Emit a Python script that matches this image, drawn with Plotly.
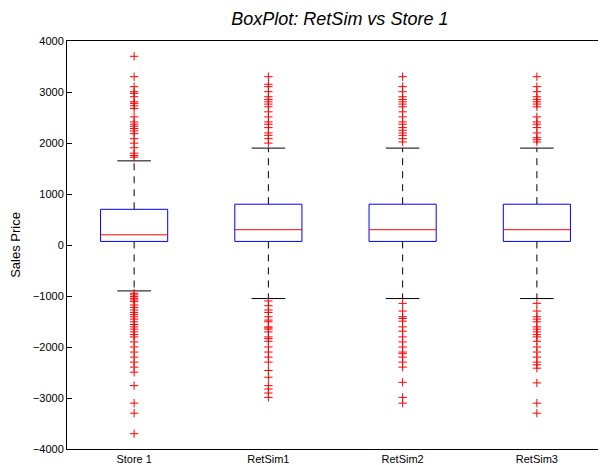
import plotly.graph_objects as go

categories = ["Store 1", "RetSim1", "RetSim2", "RetSim3"]
q1 = [70, 70, 70, 70]
median = [200, 300, 300, 300]
q3 = [700, 800, 800, 800]
upper_whisker = [1650, 1900, 1900, 1900]
lower_whisker = [-900, -1050, -1050, -1050]

outliers_store1 = [3700, 3300, 3105, 3006, 2974, 2907, 2808, 2777, 2730, 2678, 2512, 2413, 2368,
                   2328, 2283, 2236, 2183, 2085, 1998, 1907, 1800, 1755, 1721,
                   -947, -978, -1012, -1045, -1077, -1111, -1176, -1223, -1275, -1322, -1362,
                   -1407, -1453, -1506, -1559, -1605, -1650, -1704, -1757, -1802, -1901, -2000,
                   -2099, -2198, -2296, -2395, -2494, -2757, -3101, -3298, -3700]
outliers_retsim1 = [3300, 3152, 3105, 3006, 2907, 2855, 2808, 2763, 2710, 2611, 2512, 2413, 2368,
                    2302, 2197, 2150, 2085, 1998,
                    -1097, -1190, -1275, -1322, -1407, -1473, -1506, -1605, -1625, -1650, -1704,
                    -1802, -1836, -1888, -2000, -2099, -2198, -2296, -2460, -2593, -2757, -2824,
                    -2903, -2988]
outliers_retsim2 = [3300, 3105, 3006, 2907, 2855, 2808, 2763, 2710, 2611, 2512, 2413, 2368, 2302,
                    2250, 2197, 2150, 2085, 2020,
                    -1144, -1295, -1407, -1440, -1493, -1605, -1690, -1802, -1901, -2000, -2099,
                    -2132, -2198, -2296, -2395, -2692, -2988, -3101]
outliers_retsim3 = [3300, 3105, 3006, 2907, 2855, 2808, 2763, 2710, 2512, 2413, 2368, 2302, 2197,
                    2104, 2065, 2020,
                    -1144, -1295, -1407, -1453, -1506, -1605, -1650, -1704, -1757, -1802, -1888,
                    -2000, -2099, -2198, -2296, -2349, -2415, -2704, -3101, -3298]
outliers = [outliers_store1, outliers_retsim1, outliers_retsim2, outliers_retsim3]

y_ticks = [-4000, -3000, -2000, -1000, 0, 1000, 2000, 3000, 4000]

BOX_HALF = 0.25
CAP_HALF = 0.125

fig = go.Figure()
for i, name in enumerate(categories):
    x = i + 1
    # whiskers (dashed)
    fig.add_trace(go.Scatter(x=[x, x, None, x, x],
                             y=[q3[i], upper_whisker[i], None, q1[i], lower_whisker[i]],
                             mode="lines", line=dict(color="black", width=1, dash="7px,6px"),
                             hoverinfo="skip", showlegend=False))
    # caps
    fig.add_trace(go.Scatter(x=[x - CAP_HALF, x + CAP_HALF, None, x - CAP_HALF, x + CAP_HALF],
                             y=[upper_whisker[i], upper_whisker[i], None, lower_whisker[i], lower_whisker[i]],
                             mode="lines", line=dict(color="black", width=1),
                             hoverinfo="skip", showlegend=False))
    # box
    fig.add_trace(go.Scatter(x=[x - BOX_HALF, x + BOX_HALF, x + BOX_HALF, x - BOX_HALF, x - BOX_HALF],
                             y=[q1[i], q1[i], q3[i], q3[i], q1[i]],
                             mode="lines", line=dict(color="blue", width=1),
                             hoverinfo="skip", showlegend=False))
    # median
    fig.add_trace(go.Scatter(x=[x - BOX_HALF, x + BOX_HALF], y=[median[i], median[i]],
                             mode="lines", line=dict(color="red", width=1),
                             hoverinfo="skip", showlegend=False))
    # outliers
    fig.add_trace(go.Scatter(x=[x] * len(outliers[i]), y=outliers[i], mode="markers",
                             marker=dict(symbol="cross-thin", size=6, line=dict(color="red", width=1),
                                         color="red"),
                             showlegend=False, name=name))

# the page places the figure 8px in from the top-left corner; size and margins allow for that
fig.update_layout(
    width=598, height=457,
    margin=dict(l=59, r=2, t=33, b=16, autoexpand=False),
    paper_bgcolor="white", plot_bgcolor="white",
    font=dict(family="Liberation Sans, Arial, sans-serif", color="black", size=11.5),
    title=dict(text="<i>BoxPlot: RetSim vs Store 1</i>", x=0.555, xanchor="center",
               y=0.976, yanchor="middle", font=dict(size=18)),
    xaxis=dict(range=[0.5, 4.5], tickmode="array", tickvals=[1, 2, 3, 4], ticktext=categories,
               showgrid=False, zeroline=False, showline=True, linecolor="black", linewidth=1,
               mirror=True, ticks="", tickfont=dict(size=11), automargin=False),
    yaxis=dict(range=[-4000, 4000], tickmode="array", tickvals=y_ticks,
               showgrid=False, zeroline=False, showline=True, linecolor="black", linewidth=1,
               mirror="ticks", ticks="inside", ticklen=5, tickcolor="black",
               tickfont=dict(size=11), automargin=False,
               title=dict(text="Sales Price", font=dict(size=13), standoff=18)),
)

fig.write_html("out.html")
